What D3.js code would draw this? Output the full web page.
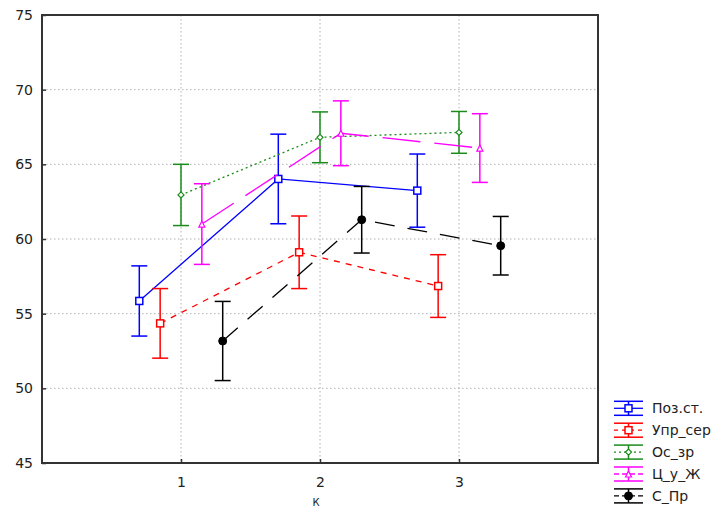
<!DOCTYPE html>
<html><head><meta charset="utf-8">
<script src="https://cdn.jsdelivr.net/npm/d3@7"></script>
<style>body{margin:0;background:#fff}svg{display:block}</style>
</head><body>
<script>
// ---- data ----
const categories = [1, 2, 3];
const yTicks = [45, 50, 55, 60, 65, 70, 75];
const seriesNames = ["Поз.ст.", "Упр_сер", "Ос_зр", "Ц_у_Ж", "С_Пр"];
const posMean = [55.85, 64.02, 63.24];
const posErr  = [2.35, 3.0, 2.45];
const uprMean = [54.35, 59.11, 56.85];
const uprErr  = [2.33, 2.43, 2.1];
const osMean  = [62.95, 66.81, 67.14];
const osErr   = [2.05, 1.7, 1.4];
const tsMean  = [61.0, 67.08, 66.09];
const tsErr   = [2.7, 2.17, 2.3];
const sMean   = [53.17, 61.29, 59.55];
const sErr    = [2.65, 2.23, 1.96];
const xLabel = "К";

// ---- style ----
const styles = [
  {color:"#0000ff", dash:null,    marker:"square", fill:"#fff", shift:-0.3, size:7},
  {color:"#ff0000", dash:"6,6",   marker:"square", fill:"#fff", shift:-0.15, size:7},
  {color:"#1a8c1a", dash:"2,3",   marker:"diamond", fill:"#fff", shift:0, size:6},
  {color:"#ff00ff", dash:"38,14", marker:"triangle", fill:"#fff", shift:0.15, size:6},
  {color:"#000000", dash:"20,13", marker:"circle", fill:"#000", shift:0.3, size:8}
];
const means = [posMean, uprMean, osMean, tsMean, sMean];
const errs = [posErr, uprErr, osErr, tsErr, sErr];

const W = 722, H = 508;
const m = {left:42, right:598, top:15, bottom:463};
const svg = d3.select("body").append("svg").attr("width", W).attr("height", H)
  .style("font-family", "'DejaVu Sans', Verdana, sans-serif");

const x = d3.scaleLinear().domain([0, 4]).range([m.left, m.right]);
const y = d3.scaleLinear().domain([45, 75]).range([m.bottom, m.top]);

// grid
const g = svg.append("g");
g.selectAll(".gy").data(yTicks.filter(t => t > 45 && t < 75)).join("line")
  .attr("x1", m.left).attr("x2", m.right).attr("y1", d => y(d)).attr("y2", d => y(d))
  .attr("stroke", "#b0b0b0").attr("stroke-dasharray", "1.5,2.5");
g.selectAll(".gx").data(categories).join("line")
  .attr("y1", m.top).attr("y2", m.bottom).attr("x1", d => x(d)).attr("x2", d => x(d))
  .attr("stroke", "#b0b0b0").attr("stroke-dasharray", "1.5,2.5");

// axes
const yAxis = d3.axisLeft(y).tickValues(yTicks).tickFormat(d3.format("d")).tickSize(-4).tickPadding(12);
const xAxis = d3.axisBottom(x).tickValues(categories).tickFormat(d3.format("d")).tickSize(-4).tickPadding(14);
const ya = svg.append("g").attr("transform", `translate(${m.left},0)`).call(yAxis);
const xa = svg.append("g").attr("transform", `translate(0,${m.bottom})`).call(xAxis);
[ya, xa].forEach(a => {
  a.select(".domain").remove();
  a.selectAll("line").attr("stroke", "#333").attr("stroke-width", 1.5);
  a.selectAll("text").attr("font-size", 14).attr("fill", "#222")
    .attr("font-family", "'DejaVu Sans', Verdana, sans-serif");
});
ya.selectAll("text").attr("x", -9);

// frame
svg.append("rect").attr("x", m.left).attr("y", m.top)
  .attr("width", m.right - m.left).attr("height", m.bottom - m.top)
  .attr("fill", "none").attr("stroke", "#333").attr("stroke-width", 2);

svg.append("text").attr("x", 316).attr("y", 506).attr("text-anchor", "middle")
  .attr("font-size", 10).attr("fill", "#222").text(xLabel);

function drawMarker(sel, st, cx, cy) {
  const s = st.size;
  if (st.marker === "square") {
    sel.append("rect").attr("x", cx - s/2).attr("y", cy - s/2).attr("width", s).attr("height", s)
      .attr("fill", st.fill).attr("stroke", st.color).attr("stroke-width", 1.5);
  } else if (st.marker === "diamond") {
    sel.append("path").attr("d", `M${cx},${cy-s/2}L${cx+s/2},${cy}L${cx},${cy+s/2}L${cx-s/2},${cy}Z`)
      .attr("fill", st.fill).attr("stroke", st.color).attr("stroke-width", 1.2);
  } else if (st.marker === "triangle") {
    sel.append("path").attr("d", `M${cx},${cy-s/2}L${cx+s/2},${cy+s/2}L${cx-s/2},${cy+s/2}Z`)
      .attr("fill", st.fill).attr("stroke", st.color).attr("stroke-width", 1.2);
  } else {
    sel.append("circle").attr("cx", cx).attr("cy", cy).attr("r", s/2)
      .attr("fill", st.fill).attr("stroke", st.color).attr("stroke-width", 1);
  }
}

const line = d3.line().x(d => x(d.c)).y(d => y(d.v));
means.forEach((ms, i) => {
  const st = styles[i];
  const pts = categories.map((c, j) => ({c: c + st.shift, v: ms[j], e: errs[i][j]}));
  const sg = svg.append("g");
  sg.append("path").attr("d", line(pts)).attr("fill", "none").attr("stroke", st.color)
    .attr("stroke-width", 1.3).attr("stroke-dasharray", st.dash);
  pts.forEach(p => {
    const cx = x(p.c);
    sg.append("line").attr("x1", cx).attr("x2", cx).attr("y1", y(p.v + p.e)).attr("y2", y(p.v - p.e))
      .attr("stroke", st.color).attr("stroke-width", 1.5);
    [p.v + p.e, p.v - p.e].forEach(v => sg.append("line")
      .attr("x1", cx - 8).attr("x2", cx + 8).attr("y1", y(v)).attr("y2", y(v))
      .attr("stroke", st.color).attr("stroke-width", 1.5));
    drawMarker(sg, st, cx, y(p.v));
  });
});

// legend
const lg = svg.append("g");
seriesNames.forEach((name, i) => {
  const st = styles[i];
  const yc = 408.3 + i * 21.9;
  const x0 = 614, x1 = 643, cx = (x0 + x1) / 2;
  [yc - 7, yc + 7].forEach(yy => lg.append("line").attr("x1", x0).attr("x2", x1)
    .attr("y1", yy).attr("y2", yy).attr("stroke", st.color).attr("stroke-width", 1.5));
  lg.append("line").attr("x1", cx).attr("x2", cx).attr("y1", yc - 7).attr("y2", yc + 7)
    .attr("stroke", st.color).attr("stroke-width", 1.5);
  lg.append("line").attr("x1", x0).attr("x2", x1).attr("y1", yc).attr("y2", yc)
    .attr("stroke", st.color).attr("stroke-width", 1.3)
    .attr("stroke-dasharray", st.dash ? (i === 1 ? "4,4" : i === 2 ? "2,3" : "5,3") : null);
  drawMarker(lg, st, cx, yc);
  lg.append("text").attr("x", 652).attr("y", yc).attr("dy", "0.36em")
    .attr("font-size", 14).attr("fill", "#222").text(name);
});
</script>
</body></html>
